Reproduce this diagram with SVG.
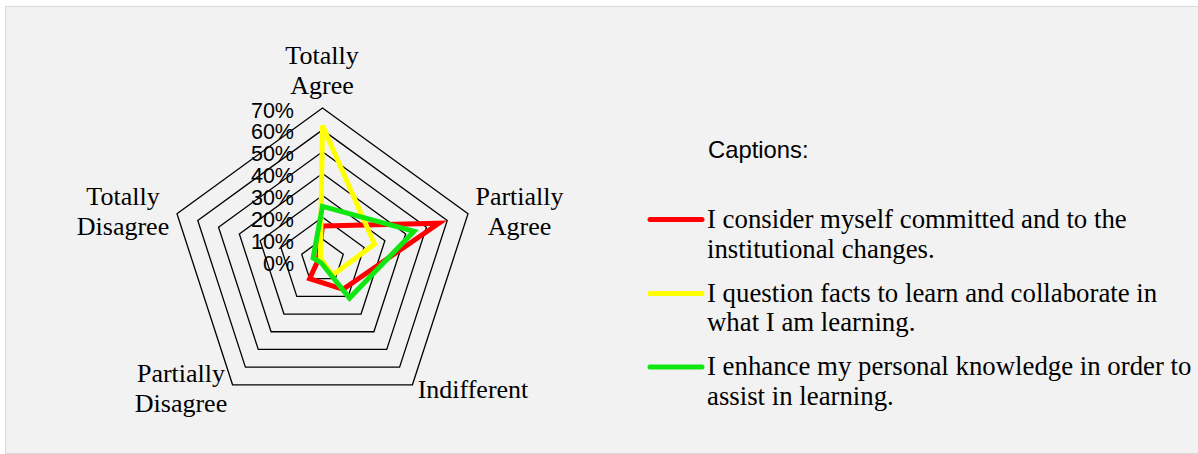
<svg xmlns="http://www.w3.org/2000/svg" width="1198" height="454" viewBox="0 0 1198 454">
<style>
.grid{fill:none;stroke:#000;stroke-width:1.3}
.ser{fill:none;stroke-width:5;stroke-linejoin:miter;stroke-miterlimit:4}
.pct{font-family:"Liberation Sans",Arial,sans-serif;font-size:21.5px;fill:#000;text-anchor:end}
.ax{font-family:"Liberation Serif","Times New Roman",serif;font-size:26px;fill:#000;text-anchor:middle}
.leg{font-family:"Liberation Serif","Times New Roman",serif;font-size:26.8px;fill:#000}
.cap{font-family:"Liberation Sans",Arial,sans-serif;font-size:23.8px;fill:#000}
.ll{stroke-width:5;stroke-linecap:round}
</style>
<rect x="5.5" y="6.5" width="1196" height="447" fill="#f2f2f2" stroke="#d9d9d9" stroke-width="1"/>
<g id="grid">
<polygon class="grid" points="322.5,239.14 343.29,254.25 335.35,278.68 309.65,278.68 301.71,254.25"/>
<polygon class="grid" points="322.5,217.29 364.08,247.49 348.20,296.37 296.80,296.37 280.92,247.49"/>
<polygon class="grid" points="322.5,195.43 384.86,240.74 361.04,314.05 283.96,314.05 260.14,240.74"/>
<polygon class="grid" points="322.5,173.57 405.65,233.98 373.89,331.73 271.11,331.73 239.35,233.98"/>
<polygon class="grid" points="322.5,151.71 426.44,227.23 386.74,349.41 258.26,349.41 218.56,227.23"/>
<polygon class="grid" points="322.5,129.86 447.23,220.48 399.59,367.10 245.41,367.10 197.77,220.48"/>
<polygon class="grid" points="322.5,108 468.02,213.72 412.43,384.78 232.57,384.78 176.98,213.72"/>
</g>
<g id="series">
<polygon class="ser" stroke="#ff0000" points="322.5,226 438.9,223.2 343.1,289.3 309.65,278.7 318.34,259.65"/>
<polygon class="ser" stroke="#ffff00" points="322.5,125.5 374.5,244.1 332.8,275.1 322.5,261 320.4,260.3"/>
<polygon class="ser" stroke="#11e611" points="322.5,206.4 414,231.3 349.5,298.1 321.2,262.8 313.1,258"/>
</g>
<g id="scale">
<text class="pct" x="294" y="270.5">0%</text>
<text class="pct" x="294" y="248.6">10%</text>
<text class="pct" x="294" y="226.8">20%</text>
<text class="pct" x="294" y="204.9">30%</text>
<text class="pct" x="294" y="183.1">40%</text>
<text class="pct" x="294" y="161.2">50%</text>
<text class="pct" x="294" y="139.4">60%</text>
<text class="pct" x="294" y="117.5">70%</text>
</g>
<g id="axis-totally-agree"><text class="ax" x="322" y="64">Totally</text><text class="ax" x="322" y="94">Agree</text></g>
<g id="axis-partially-agree"><text class="ax" x="519.5" y="204.5">Partially</text><text class="ax" x="519.5" y="234.5">Agree</text></g>
<g id="axis-indifferent"><text class="ax" x="473" y="398">Indifferent</text></g>
<g id="axis-partially-disagree"><text class="ax" x="181" y="382">Partially</text><text class="ax" x="181" y="412">Disagree</text></g>
<g id="axis-totally-disagree"><text class="ax" x="123" y="205">Totally</text><text class="ax" x="123" y="235">Disagree</text></g>
<g id="legend">
<text class="cap" x="708" y="158.3">Captions:</text>
<line class="ll" x1="650" y1="219.5" x2="702" y2="219.5" stroke="#ff0000"/>
<text class="leg" x="707" y="227.5">I consider myself committed and to the</text>
<text class="leg" x="707" y="257.5">institutional changes.</text>
<line class="ll" x1="650" y1="293.5" x2="702" y2="293.5" stroke="#ffff00"/>
<text class="leg" x="707" y="301.5">I question facts to learn and collaborate in</text>
<text class="leg" x="707" y="331">what I am learning.</text>
<line class="ll" x1="650" y1="367" x2="702" y2="367" stroke="#11e611"/>
<text class="leg" x="707" y="375">I enhance my personal knowledge in order to</text>
<text class="leg" x="707" y="405">assist in learning.</text>
</g>
</svg>
